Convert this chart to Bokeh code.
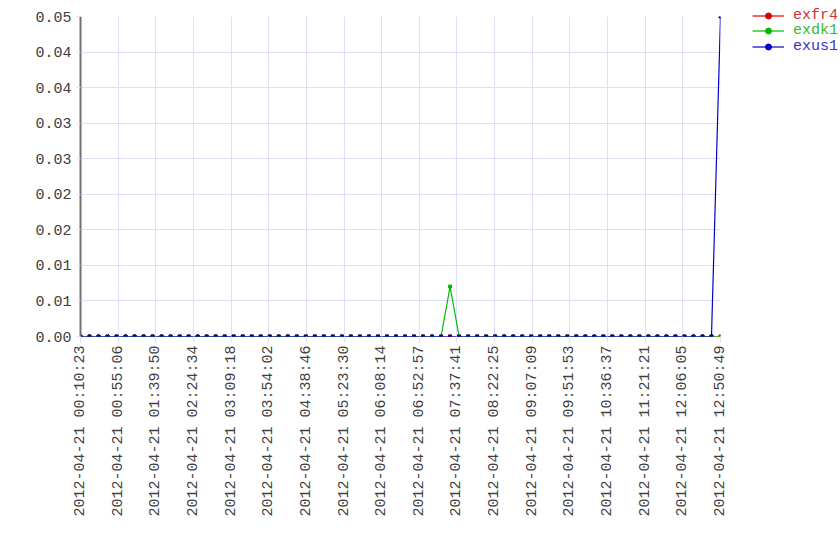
import math
import pandas as pd
from bokeh.plotting import figure
from bokeh.layouts import row, column
from bokeh.models import (Range1d, FixedTicker, PrintfTickFormatter, Legend, LegendItem)
from bokeh.embed import file_html
from bokeh.resources import INLINE

DAY = "2012-04-21 "
times = [
    "00:10:23", "00:21:06", "00:31:48", "00:42:31", "00:53:13", "01:03:56", "01:14:39", "01:25:21",
    "01:36:04", "01:46:47", "01:57:29", "02:08:12", "02:18:54", "02:29:37", "02:40:20", "02:51:02",
    "03:01:45", "03:12:28", "03:23:10", "03:33:53", "03:44:35", "03:55:18", "04:06:01", "04:16:43",
    "04:27:26", "04:38:09", "04:48:51", "04:59:34", "05:10:16", "05:20:59", "05:31:42", "05:42:24",
    "05:53:07", "06:03:49", "06:14:32", "06:25:15", "06:35:57", "06:46:40", "06:57:23", "07:08:05",
    "07:18:48", "07:29:30", "07:40:13", "07:50:56", "08:01:38", "08:12:21", "08:23:04", "08:33:46",
    "08:44:29", "08:55:11", "09:05:54", "09:16:37", "09:27:19", "09:38:02", "09:48:44", "09:59:27",
    "10:10:10", "10:20:52", "10:31:35", "10:42:18", "10:53:00", "11:03:43", "11:14:25", "11:25:08",
    "11:35:51", "11:46:33", "11:57:16", "12:07:59", "12:18:41", "12:29:24", "12:40:06", "12:50:49",
]

exfr4 = [
    0, 0, 0, 0, 0, 0, 0, 0, 0, 0, 0, 0, 0, 0, 0, 0,
    0, 0, 0, 0, 0, 0, 0, 0, 0, 0, 0, 0, 0, 0, 0, 0,
    0, 0, 0, 0, 0, 0, 0, 0, 0, 0, 0, 0, 0, 0, 0, 0,
    0, 0, 0, 0, 0, 0, 0, 0, 0, 0, 0, 0, 0, 0, 0, 0,
    0, 0, 0, 0, 0, 0, 0, 0,
]
exdk1 = [
    0, 0, 0, 0, 0, 0, 0, 0, 0, 0, 0, 0, 0, 0, 0, 0,
    0, 0, 0, 0, 0, 0, 0, 0, 0, 0, 0, 0, 0, 0, 0, 0,
    0, 0, 0, 0, 0, 0, 0, 0, 0, 0.0078, 0, 0, 0, 0, 0, 0,
    0, 0, 0, 0, 0, 0, 0, 0, 0, 0, 0, 0, 0, 0, 0, 0,
    0, 0, 0, 0, 0, 0, 0, 0,
]
exus1 = [
    0, 0, 0, 0, 0, 0, 0, 0, 0, 0, 0, 0, 0, 0, 0, 0,
    0, 0, 0, 0, 0, 0, 0, 0, 0, 0, 0, 0, 0, 0, 0, 0,
    0, 0, 0, 0, 0, 0, 0, 0, 0, 0, 0, 0, 0, 0, 0, 0,
    0, 0, 0, 0, 0, 0, 0, 0, 0, 0, 0, 0, 0, 0, 0, 0,
    0, 0, 0, 0, 0, 0, 0, 0.05,
]

x_tick_labels = [
    "2012-04-21 00:10:23", "2012-04-21 00:55:06", "2012-04-21 01:39:50", "2012-04-21 02:24:34",
    "2012-04-21 03:09:18", "2012-04-21 03:54:02", "2012-04-21 04:38:46", "2012-04-21 05:23:30",
    "2012-04-21 06:08:14", "2012-04-21 06:52:57", "2012-04-21 07:37:41", "2012-04-21 08:22:25",
    "2012-04-21 09:07:09", "2012-04-21 09:51:53", "2012-04-21 10:36:37", "2012-04-21 11:21:21",
    "2012-04-21 12:06:05", "2012-04-21 12:50:49",
]
y_ticks = [0.0, 0.005556, 0.011111, 0.016667, 0.022222, 0.027778, 0.033333, 0.038889, 0.044444, 0.05]

series_names = ["exfr4", "exdk1", "exus1"]
series_colors = ["#dd0000", "#00bb00", "#0000cc"]
label_colors = ["#cc3333", "#33bb33", "#3333cc"]


def to_ms(strings):
    return [int(v) // 10**6 for v in pd.to_datetime(strings).astype("int64")]


x = to_ms([DAY + t for t in times])
xticks = to_ms(x_tick_labels)

FONT = "Liberation Mono"
GRID = "#dedef8"

p = figure(frame_width=640, frame_height=320, min_border_left=80, min_border_right=10,
           min_border_top=16, min_border_bottom=0,
           x_range=Range1d(x[0], x[-1]), y_range=Range1d(0, 0.05),
           output_backend="svg", toolbar_location=None)
p.outline_line_color = None
p.background_fill_color = "white"
p.border_fill_color = "white"

p.xaxis.ticker = FixedTicker(ticks=xticks)
p.xaxis.major_label_overrides = {t: lab for t, lab in zip(xticks, x_tick_labels)}
p.xaxis.major_label_orientation = math.pi / 2
p.xaxis.axis_line_color = None
p.xaxis.major_tick_in = 0
p.xaxis.major_tick_out = 6
p.xaxis.major_tick_line_color = GRID
p.xaxis.minor_tick_line_color = None
p.xaxis.major_label_standoff = 3

p.yaxis.ticker = FixedTicker(ticks=y_ticks)
p.yaxis.formatter = PrintfTickFormatter(format="%.2f")
p.yaxis.axis_line_color = "#6e6e78"
p.yaxis.axis_line_width = 2
p.yaxis.major_tick_in = 0
p.yaxis.major_tick_out = 4
p.yaxis.major_tick_line_color = GRID
p.yaxis.minor_tick_line_color = None
p.yaxis.major_label_standoff = 5

for ax in (p.xaxis, p.yaxis):
    ax.major_label_text_font = FONT
    ax.major_label_text_font_size = "15px"
    ax.major_label_text_color = "#404040"

p.xgrid.ticker = FixedTicker(ticks=xticks)
p.ygrid.ticker = FixedTicker(ticks=y_ticks)
p.xgrid.grid_line_color = GRID
p.ygrid.grid_line_color = GRID

# legend panel as a separate small figure
LG_H = 70
lg = figure(frame_width=110, frame_height=LG_H, min_border=0,
            x_range=Range1d(0, 1), y_range=Range1d(0, 1),
            x_axis_location=None, y_axis_location=None,
            output_backend="svg", toolbar_location=None)
lg.outline_line_color = None
lg.xgrid.visible = False
lg.ygrid.visible = False
lg.border_fill_color = "white"
lg.background_fill_color = "white"

nan = float("nan")
data = [exfr4, exdk1, exus1]
for i, (name, col, lcol, ys) in enumerate(zip(series_names, series_colors, label_colors, data)):
    p.line(x, ys, line_color=col, line_width=1.2)
    p.scatter(x, ys, marker="square", size=3, fill_color=col, line_color=col)
    lr = lg.line([nan], [nan], line_color=col, line_width=2, line_alpha=0.6)
    sr = lg.scatter([nan], [nan], size=3, fill_color=col, line_color=col)
    center = 16 + i * 15.5
    leg = Legend(items=[LegendItem(label=name, renderers=[lr, sr])],
                 location=(22, LG_H - (center + 7.5)),
                 padding=0, spacing=0, margin=0,
                 glyph_width=32, glyph_height=15, label_height=15, label_standoff=9,
                 label_text_font=FONT, label_text_font_size="15px", label_text_color=lcol,
                 border_line_color=None, background_fill_alpha=0)
    lg.add_layout(leg, "center")

layout = row(p, column(lg))
open("out.html", "w").write(file_html(layout, INLINE))
